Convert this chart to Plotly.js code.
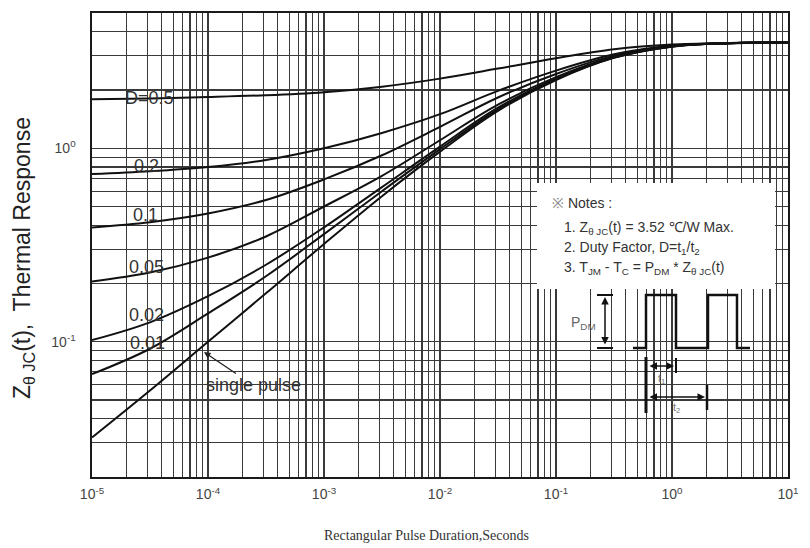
<!DOCTYPE html>
<html>
<head>
<meta charset="utf-8">
<script src="https://cdn.plot.ly/plotly-3.0.1.min.js"></script>
<style>html,body{margin:0;padding:0;background:#fff}#chart{width:810px;height:548px}</style>
</head>
<body>
<div id="chart"></div>
<script>
// ---- data (half-decade steps) ----
const pulseDuration = [1e-5, 3.16e-5, 1e-4, 3.16e-4, 1e-3, 3.16e-3, 1e-2, 3.16e-2, 1e-1, 3.16e-1, 1, 3.16, 10];
const zD050  = [1.79, 1.81, 1.84, 1.88, 1.95, 2.08, 2.29, 2.58, 2.92, 3.25, 3.44, 3.50, 3.52];
const zD020  = [0.735, 0.76, 0.80, 0.87, 1.00, 1.20, 1.50, 1.98, 2.52, 3.06, 3.40, 3.50, 3.52];
const zD010  = [0.39, 0.415, 0.46, 0.54, 0.69, 0.92, 1.29, 1.83, 2.42, 3.01, 3.38, 3.49, 3.52];
const zD005  = [0.205, 0.228, 0.272, 0.35, 0.50, 0.72, 1.10, 1.68, 2.33, 2.97, 3.37, 3.49, 3.52];
const zD002  = [0.102, 0.126, 0.172, 0.250, 0.39, 0.63, 1.02, 1.62, 2.29, 2.95, 3.36, 3.49, 3.52];
const zD001  = [0.068, 0.092, 0.140, 0.218, 0.36, 0.60, 0.99, 1.59, 2.27, 2.94, 3.36, 3.49, 3.52];
const zSingle = [0.032, 0.056, 0.100, 0.178, 0.32, 0.565, 0.96, 1.56, 2.25, 2.93, 3.35, 3.49, 3.52];

const curveLabels = ["D=0.5", "0.2", "0.1", "0.05", "0.02", "0.01"];
const xTickDecades = [1e-5, 1e-4, 1e-3, 1e-2, 1e-1, 1, 10];
const xTickText = ["10<sup>-5</sup>", "10<sup>-4</sup>", "10<sup>-3</sup>", "10<sup>-2</sup>", "10<sup>-1</sup>", "10<sup>0</sup>", "10<sup>1</sup>"];
const yTickDecades = [0.1, 1];
const yTickText = ["10<sup>-1</sup>", "10<sup>0</sup>"];

// ---- minor grid positions (2..9 per decade) ----
function logGrid(lo, hi) {
  const v = [];
  for (let e = -6; e <= 2; e++) for (let m = 2; m <= 9; m++) {
    const val = +(m * Math.pow(10, e)).toPrecision(3);
    if (val >= lo * 0.999 && val <= hi * 1.001) v.push(val);
  }
  return v;
}
const xMinor = logGrid(1e-5, 10);
const yMinor = logGrid(0.02, 5);

// ---- frame geometry helpers for decorations ----
const L = 92, R = 788, T = 13, B = 477;
const fx = p => (p - L) / (R - L);
const fy = p => (B - p) / (B - T);

const series = [zD050, zD020, zD010, zD005, zD002, zD001, zSingle];
const names = ["D=0.5", "D=0.2", "D=0.1", "D=0.05", "D=0.02", "D=0.01", "single pulse"];
const traces = series.map((s, i) => ({
  x: pulseDuration, y: s, name: names[i], type: "scatter", mode: "lines",
  line: {color: "#111", width: 2, shape: "spline", smoothing: 1},
  hoverinfo: "x+y+name"
}));

const font = "Liberation Sans, Arial, sans-serif";
const labelPos = [[149, 98], [146, 166], [145, 215], [146, 267], [146, 315], [147, 343]];
const annotations = curveLabels.map((t, i) => ({
  xref: "paper", yref: "paper", x: fx(labelPos[i][0]), y: fy(labelPos[i][1]),
  text: t, showarrow: false, xanchor: "center", yanchor: "middle",
  font: {family: font, size: 18, color: "#333"}
}));

annotations.push({
  xref: "paper", yref: "paper", x: fx(204), y: fy(352), ax: 49, ay: 33,
  text: "single pulse", showarrow: true, arrowhead: 2, arrowsize: 1, arrowwidth: 1.3,
  arrowcolor: "#222", font: {family: font, size: 18, color: "#333"}
});

// axis titles
annotations.push({
  xref: "paper", yref: "paper", x: fx(23), y: fy(258), textangle: -90,
  text: "Z<sub>θ JC</sub>(t),  Thermal Response", showarrow: false,
  xanchor: "center", yanchor: "middle", font: {family: font, size: 23, color: "#222"}
});
annotations.push({
  xref: "paper", yref: "paper", x: fx(426), y: fy(535),
  text: "Rectangular Pulse Duration,Seconds", showarrow: false,
  xanchor: "center", yanchor: "middle", font: {family: "Liberation Serif, Times New Roman, serif", size: 14, color: "#333"}
});

// notes
const notes = [
  ["<span style='color:#888'>※</span> Notes :", 550, 203],
  ["1. Z<sub>θ JC</sub>(t) = 3.52 ℃/W Max.", 562, 228],
  ["2. Duty Factor, D=t<sub>1</sub>/t<sub>2</sub>", 562, 248],
  ["3. T<sub>JM</sub> - T<sub>C</sub> = P<sub>DM</sub> * Z<sub>θ JC</sub>(t)", 562, 268]
];
notes.forEach(n => annotations.push({
  xref: "paper", yref: "paper", x: fx(n[1]), y: fy(n[2]), text: n[0], showarrow: false,
  xanchor: "left", yanchor: "middle", font: {family: font, size: 14, color: "#333"}
}));
annotations.push({xref: "paper", yref: "paper", x: fx(583), y: fy(323), text: "P<sub>DM</sub>", showarrow: false,
  xanchor: "center", yanchor: "middle", font: {family: font, size: 14, color: "#666"}});
annotations.push({xref: "paper", yref: "paper", x: fx(661), y: fy(379), text: "t<sub>1</sub>", showarrow: false,
  xanchor: "center", yanchor: "middle", font: {family: font, size: 11, color: "#777"}});
annotations.push({xref: "paper", yref: "paper", x: fx(676), y: fy(408), text: "t<sub>2</sub>", showarrow: false,
  xanchor: "center", yanchor: "middle", font: {family: font, size: 11, color: "#777"}});

// arrows in the pulse diagram
function dblArrow(x1, y1, x2, y2) {
  annotations.push({xref: "paper", yref: "paper", x: fx(x2), y: fy(y2), ax: x1 - x2, ay: y1 - y2,
    text: "", showarrow: true, arrowhead: 2, startarrowhead: 2, arrowside: "end+start",
    arrowsize: 1, arrowwidth: 1.5, arrowcolor: "#111"});
}
dblArrow(605, 346, 605, 297);
dblArrow(648, 366, 674, 366);
dblArrow(648, 397, 705, 397);

function seg(x0, y0, x1, y1, w) {
  return {type: "line", xref: "paper", yref: "paper", x0: fx(x0), y0: fy(y0), x1: fx(x1), y1: fy(y1),
    line: {color: "#111", width: w}, layer: "above"};
}
const wave = [[633,348],[646,348],[646,295],[676,295],[676,348],[708,348],[708,295],[737,295],[737,348],[750,348]];
const wavePath = wave.map((p, i) => (i ? "L" : "M") + fx(p[0]).toFixed(5) + "," + fy(p[1]).toFixed(5)).join(" ");

const shapes = [
  {type: "rect", xref: "paper", yref: "paper", x0: fx(537), x1: fx(775), y0: fy(289), y1: fy(183),
   fillcolor: "#fff", line: {width: 0}, layer: "above"},
  {type: "path", xref: "paper", yref: "paper", path: wavePath, line: {color: "#111", width: 2.5}, layer: "above"},
  seg(597, 295, 613, 295, 2), seg(597, 348, 613, 348, 2),
  seg(646, 357, 646, 413, 3), seg(676, 358, 676, 373, 2), seg(707, 385, 707, 410, 2.5)
];

const gridColor = "#3a3a3a";
const axisCommon = {
  type: "log", showgrid: true, gridcolor: gridColor, gridwidth: 1.1,
  showline: true, mirror: true, linecolor: "#1a1a1a", linewidth: 1.6,
  ticks: "", zeroline: false, tickmode: "array",
  tickfont: {family: font, size: 14, color: "#444"}
};

const layout = {
  width: 810, height: 548,
  margin: {l: L, r: 810 - R, t: T, b: 548 - B},
  paper_bgcolor: "#fff", plot_bgcolor: "#fff",
  showlegend: false,
  xaxis: Object.assign({}, axisCommon, {range: [-5, 1], tickvals: xTickDecades, ticktext: xTickText, ticklabelstandoff: 4,
    minor: {tickmode: "array", tickvals: xMinor, showgrid: true, gridcolor: gridColor, gridwidth: 1.1, ticks: ""}}),
  yaxis: Object.assign({}, axisCommon, {range: [Math.log10(0.02), Math.log10(5)], tickvals: yTickDecades, ticktext: yTickText, ticklabelstandoff: 12,
    minor: {tickmode: "array", tickvals: yMinor, showgrid: true, gridcolor: gridColor, gridwidth: 1.1, ticks: ""}}),
  annotations: annotations,
  shapes: shapes
};

Plotly.newPlot("chart", traces, layout, {staticPlot: true, displayModeBar: false});
</script>
</body>
</html>
